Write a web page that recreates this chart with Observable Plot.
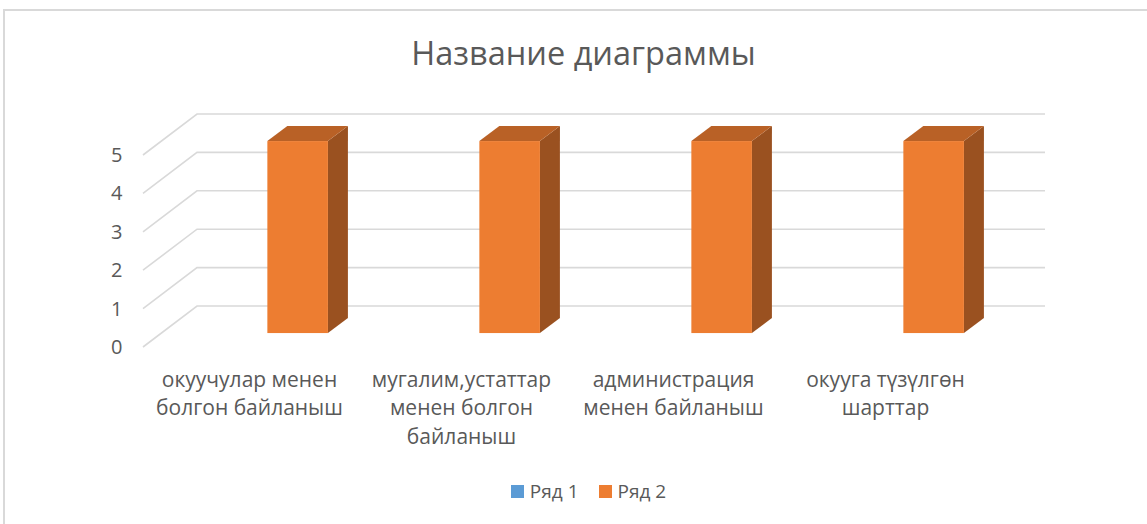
<!DOCTYPE html>
<html>
<head>
<meta charset="utf-8">
<script src="https://cdn.jsdelivr.net/npm/d3@7"></script>
<script src="https://cdn.jsdelivr.net/npm/@observablehq/plot@0.6"></script>
<style>
  html, body { margin: 0; padding: 0; background: #fff; overflow: hidden; }
  body { font-family: "Open Sans", sans-serif; color: #595959; width: 1147px; height: 524px; position: relative; }
  #frame { position: absolute; left: 3px; top: 9px; width: 1400px; height: 900px; border: 2px solid #d9d9d9; box-sizing: border-box; }
  #title { position: absolute; left: 0; top: 0; width: 1167px; height: 100px; box-sizing: border-box; padding-top: 33px; line-height: 40px; font-size: 32.5px; text-align: center; white-space: nowrap; }
  #chart { position: absolute; left: 0; top: 100px; }
  #legend { position: absolute; left: 0; top: 478px; width: 1177px; display: flex; justify-content: center; align-items: center; font-size: 19px; line-height: 26px; }
  .item { display: flex; align-items: center; margin: 0 10px; }
  .sw { width: 13px; height: 13px; margin-right: 6px; }
</style>
</head>
<body>
<div id="frame"></div>
<div id="title"></div>
<div id="chart"></div>
<div id="legend"></div>
<script>
// ---- data ----
const chartTitle = "Название диаграммы";
const categories = [
  "окуучулар менен болгон байланыш",
  "мугалим,устаттар менен болгон байланыш",
  "администрация менен байланыш",
  "окууга түзүлгөн шарттар"
];
const tickLabels = [
  "окуучулар менен\nболгон байланыш",
  "мугалим,устаттар\nменен болгон\nбайланыш",
  "администрация\nменен байланыш",
  "окууга түзүлгөн\nшарттар"
];
const series = ["Ряд 1", "Ряд 2"];
const ryad1 = [null, null, null, null];
const ryad2 = [5, 5, 5, 5];
const yTicks = [0, 1, 2, 3, 4, 5];
const seriesColors = ["#5B9BD5", "#ED7D31"];

// ---- table ----
const seriesValues = [ryad1, ryad2];
const table = [];
series.forEach((s, si) => {
  categories.forEach((c, ci) => {
    const v = seriesValues[si][ci];
    if (v != null) table.push({category: c, series: s, si, value: v});
  });
});

// 3D oblique depth of the floor (pixels)
const DX = 54, DY = 41;
const F1 = 0.34, FD = 0.37; // bar front depth fraction, bar thickness fraction
const GAP = 1.5;            // gap width 150%

const gridMark = Plot.ruleY(yTicks, {
  y: d => d,
  render(index, scales, values, dims) {
    const {y} = scales;
    const xl = dims.marginLeft, xr = dims.width - dims.marginRight;
    const g = d3.create("svg:g").attr("fill", "none").attr("stroke", "#d9d9d9").attr("stroke-width", 1.6);
    for (const i of index) {
      const v = yTicks[i];
      const yy = y(v);
      g.append("path").attr("d", `M${xl},${yy}L${xl + DX},${yy - DY}L${xr + DX},${yy - DY}`);
    }
    return g.node();
  }
});

const barMark = Plot.barY(table, {
  x: "category", y: "value", fill: "series",
  render(index, scales, values, dims) {
    const {x, y, color} = scales;
    const bw = x.bandwidth();
    const barW = bw / (series.length + GAP);
    const g = d3.create("svg:g");
    for (const i of index) {
      const d = table[i];
      const fill = color(d.series);
      const x0 = x(d.category) + bw / 2 - series.length * barW / 2 + d.si * barW + F1 * DX;
      const x1 = x0 + barW;
      const yb = y(0) - F1 * DY;
      const yt = y(d.value) - F1 * DY;
      const ox = FD * DX, oy = FD * DY;
      // side face
      g.append("path")
        .attr("d", `M${x1},${yb}L${x1},${yt}L${x1 + ox},${yt - oy}L${x1 + ox},${yb - oy}Z`)
        .attr("fill", d3.color(fill).darker(1.2));
      // top face
      g.append("path")
        .attr("d", `M${x0},${yt}L${x1},${yt}L${x1 + ox},${yt - oy}L${x0 + ox},${yt - oy}Z`)
        .attr("fill", d3.color(fill).darker(0.7));
      // front face
      g.append("rect")
        .attr("x", x0).attr("y", yt).attr("width", barW).attr("height", yb - yt)
        .attr("fill", fill);
    }
    return g.node();
  }
});

const plot = Plot.plot({
  width: 1147,
  height: 370,
  marginLeft: 143,
  marginRight: 156,
  marginTop: 55,
  marginBottom: 123,
  x: {type: "band", domain: categories, padding: 0, axis: null},
  y: {domain: [0, 5], axis: null},
  color: {domain: series, range: seriesColors},
  style: {fontFamily: "Open Sans", color: "#595959", background: "transparent", overflow: "visible"},
  marks: [
    gridMark,
    barMark,
    Plot.axisY(yTicks, {tickSize: 0, tickPadding: 21, fontSize: 20, fill: "#595959", label: null}),
    Plot.text(categories, {
      x: d => d,
      text: (d, i) => tickLabels[i],
      frameAnchor: "bottom",
      lineAnchor: "top",
      dy: 19,
      lineHeight: 1.36,
      fontSize: 21,
      fill: "#595959"
    })
  ]
});
document.getElementById("chart").appendChild(plot);
document.getElementById("title").textContent = chartTitle;

const legend = document.getElementById("legend");
series.forEach((s, i) => {
  const item = document.createElement("div");
  item.className = "item";
  const sw = document.createElement("div");
  sw.className = "sw";
  sw.style.background = seriesColors[i];
  const t = document.createElement("span");
  t.textContent = s;
  item.appendChild(sw);
  item.appendChild(t);
  legend.appendChild(item);
});
</script>
</body>
</html>
